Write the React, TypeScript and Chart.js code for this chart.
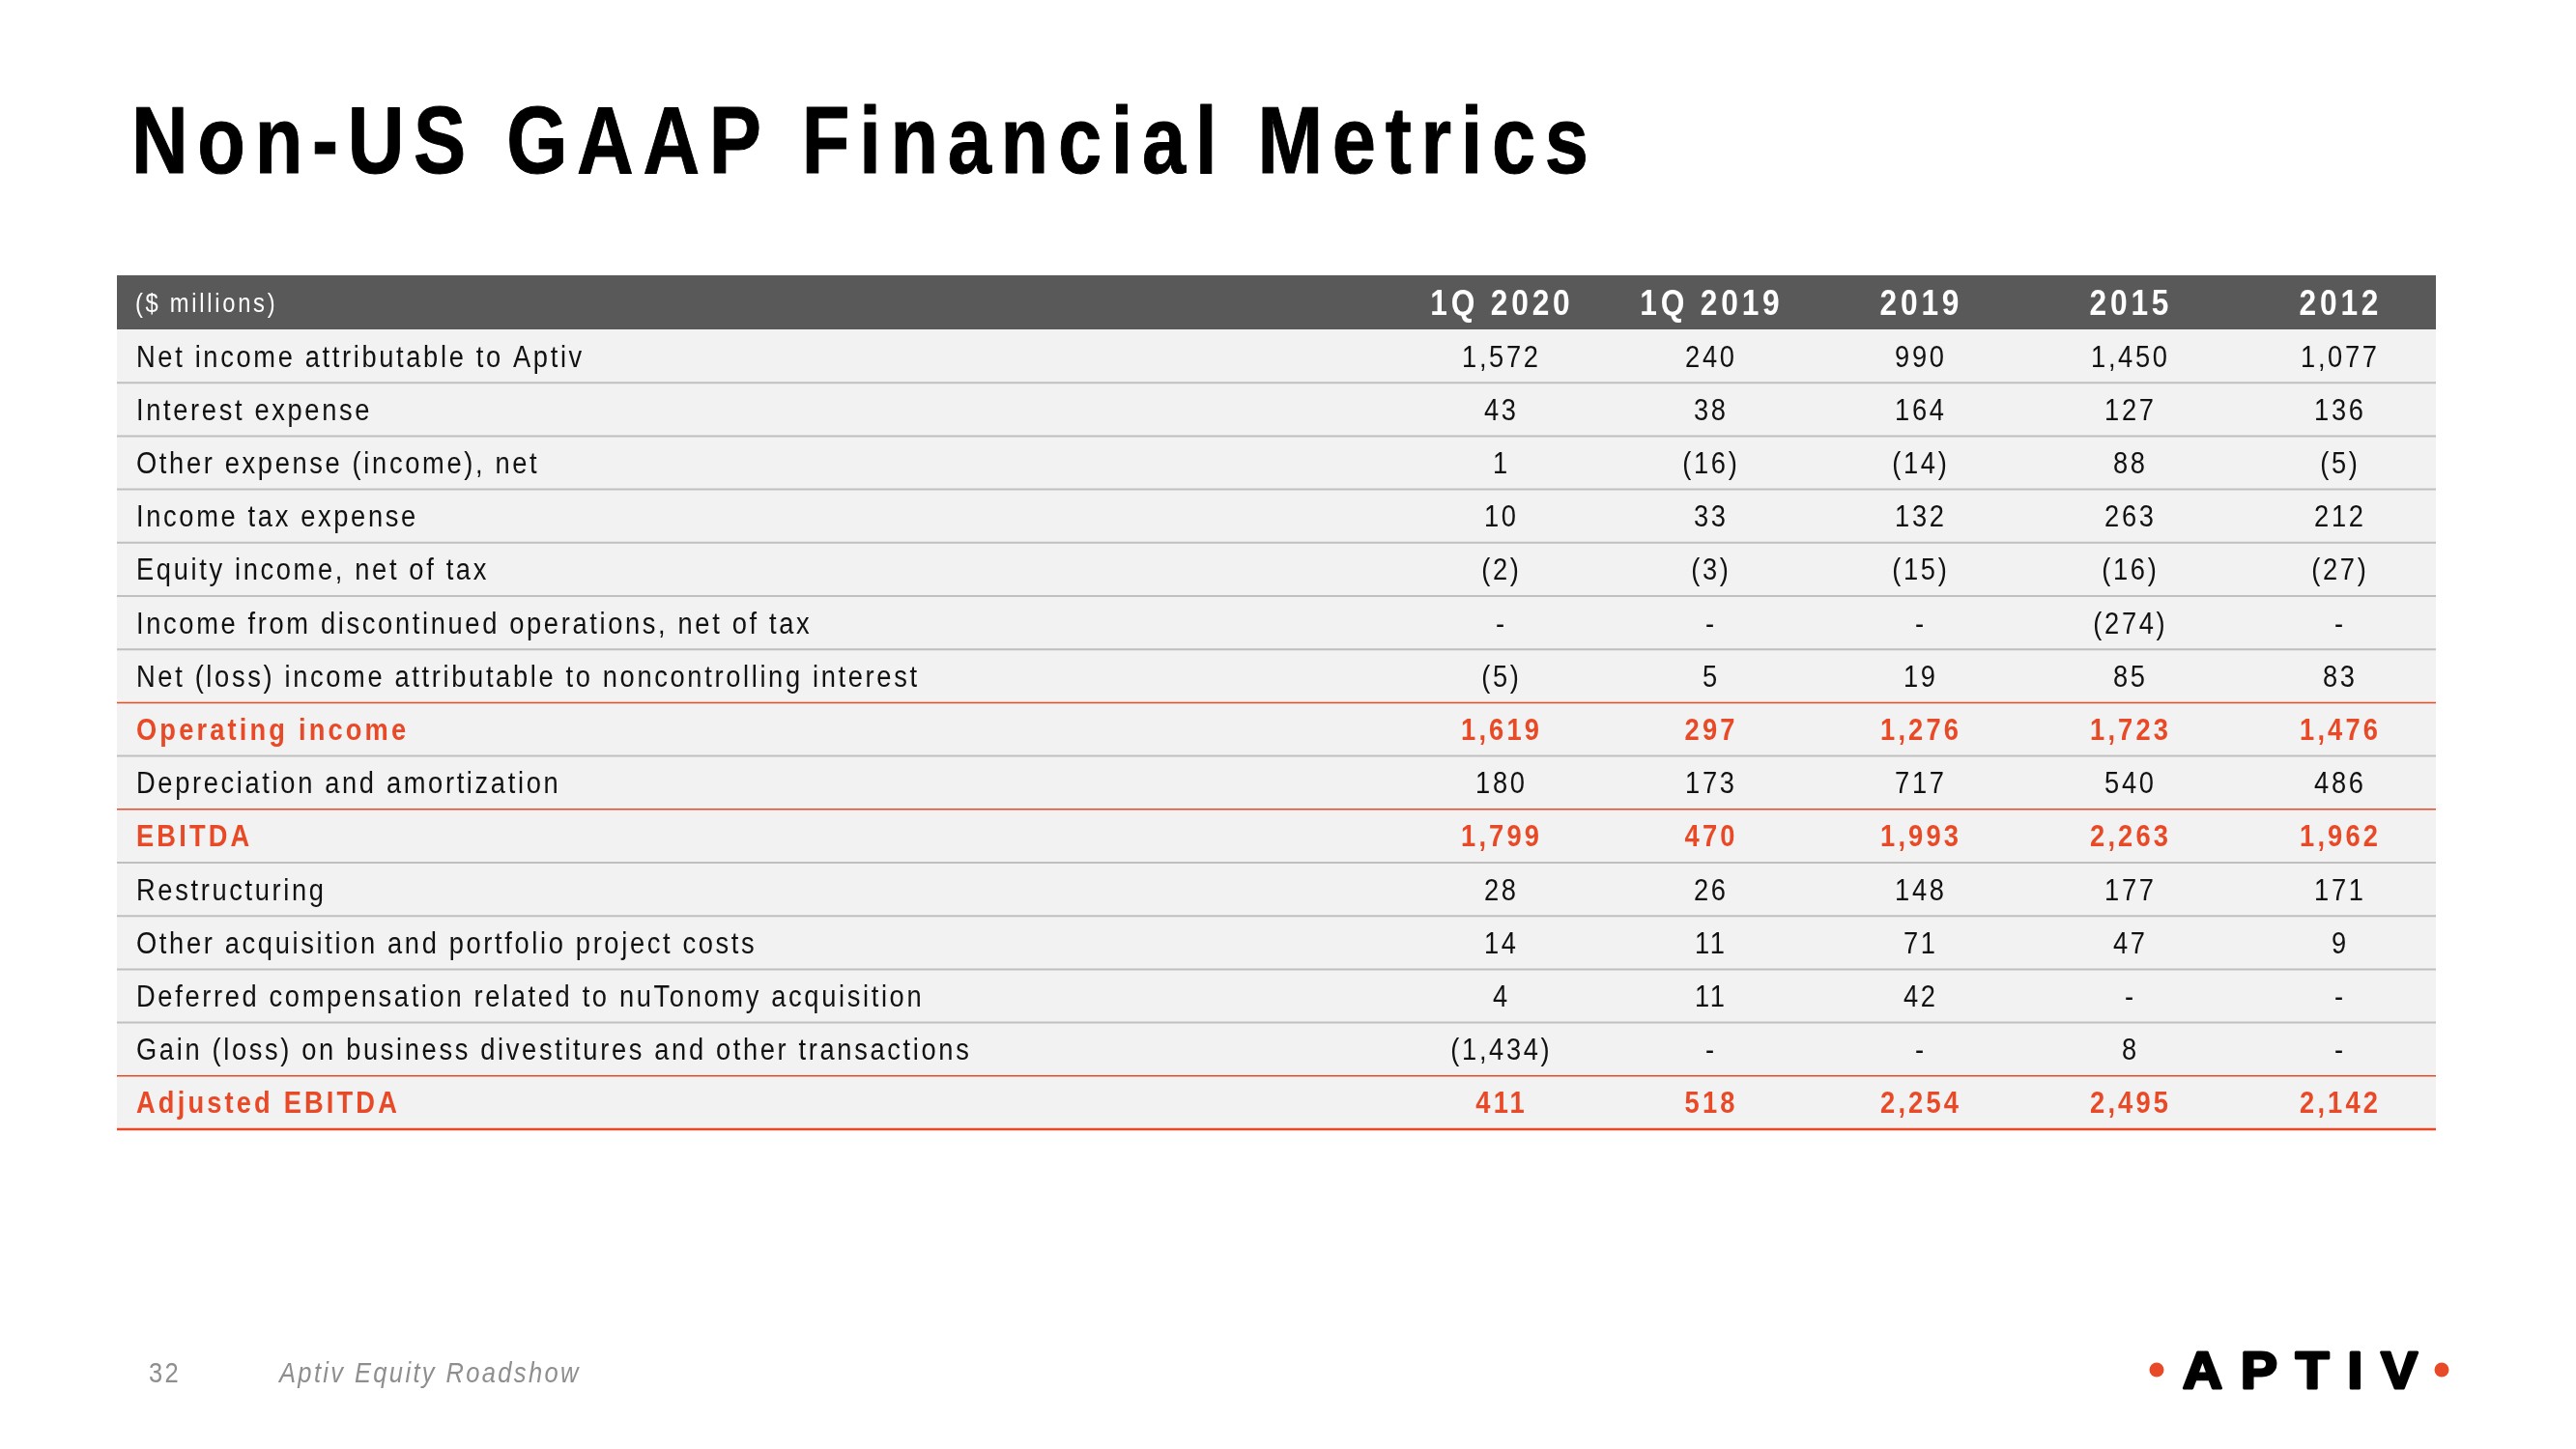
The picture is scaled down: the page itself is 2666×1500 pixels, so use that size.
import React, { useEffect, useRef } from "react";
import { Chart, registerables } from "chart.js";

Chart.register(...registerables);

// ---------- DATA ----------
const TITLE = "Non-US GAAP Financial Metrics";
const UNIT_LABEL = "($ millions)";
const COLUMNS = ["1Q 2020", "1Q 2019", "2019", "2015", "2012"];
const ROWS = [
  "Net income attributable to Aptiv",
  "Interest expense",
  "Other expense (income), net",
  "Income tax expense",
  "Equity income, net of tax",
  "Income from discontinued operations, net of tax",
  "Net (loss) income attributable to noncontrolling interest",
  "Operating income",
  "Depreciation and amortization",
  "EBITDA",
  "Restructuring",
  "Other acquisition and portfolio project costs",
  "Deferred compensation related to nuTonomy acquisition",
  "Gain (loss) on business divestitures and other transactions",
  "Adjusted EBITDA",
];
const TOTAL_ROWS = ["Operating income", "EBITDA", "Adjusted EBITDA"];

const Q1_2020 = [1572, 43, 1, 10, -2, null, -5, 1619, 180, 1799, 28, 14, 4, -1434, 411];
const Q1_2019 = [240, 38, -16, 33, -3, null, 5, 297, 173, 470, 26, 11, 11, null, 518];
const FY_2019 = [990, 164, -14, 132, -15, null, 19, 1276, 717, 1993, 148, 71, 42, null, 2254];
const FY_2015 = [1450, 127, 88, 263, -16, -274, 85, 1723, 540, 2263, 177, 47, null, 8, 2495];
const FY_2012 = [1077, 136, -5, 212, -27, null, 83, 1476, 486, 1962, 171, 9, null, null, 2142];
const SERIES: (number | null)[][] = [Q1_2020, Q1_2019, FY_2019, FY_2015, FY_2012];

const PAGE_NUMBER = "32";
const FOOTER_TEXT = "Aptiv Equity Roadshow";
const LOGO_TEXT = "APTIV";

// ---------- STYLE ----------
const FONT = '"Liberation Sans", Arial, "DejaVu Sans", sans-serif';
const ORANGE = "#E84A27";
const HEADER_BG = "#595959";
const ROW_BG = "#F2F2F2";
const GRAY_LINE = "#BFBFBF";
const NARROW = 0.88;

function fmt(v: number | null): string {
  if (v === null) return "-";
  const s = Math.abs(v).toLocaleString("en-US");
  return v < 0 ? `(${s})` : s;
}

type TextOpts = {
  size: number;
  weight?: string;
  style?: string;
  color: string;
  spacing: number;
  align?: "left" | "center" | "right";
  sx?: number;
  stroke?: number;
};

function drawText(ctx: CanvasRenderingContext2D, s: string, x: number, y: number, o: TextOpts) {
  const sx = o.sx ?? NARROW;
  ctx.save();
  ctx.font = `${o.style || "normal"} ${o.weight || "normal"} ${o.size}px ${FONT}`;
  const ls = o.spacing / sx;
  (ctx as any).letterSpacing = `${ls}px`;
  ctx.fillStyle = o.color;
  ctx.textAlign = "left";
  ctx.textBaseline = "alphabetic";
  const w = (ctx.measureText(s).width - ls) * sx;
  const x0 = o.align === "center" ? x - w / 2 : o.align === "right" ? x - w : x;
  ctx.translate(x0, y);
  ctx.scale(sx, 1);
  ctx.fillText(s, 0, 0);
  if (o.stroke) {
    ctx.strokeStyle = o.color;
    ctx.lineWidth = o.stroke;
    ctx.lineJoin = "round";
    ctx.strokeText(s, 0, 0);
  }
  ctx.restore();
}

const TABLE_LEFT = 121;
const TABLE_RIGHT = 2521;
const HEADER_H = 56;
const LABEL_X = 141;

const tablePlugin = {
  id: "tablePlugin",
  beforeDraw(chart: any) {
    const ctx: CanvasRenderingContext2D = chart.ctx;
    ctx.save();
    ctx.fillStyle = "#FFFFFF";
    ctx.fillRect(0, 0, chart.width, chart.height);
    ctx.restore();
  },
  afterDraw(chart: any) {
    const ctx: CanvasRenderingContext2D = chart.ctx;
    const xs = chart.scales.x;
    const ys = chart.scales.y;
    const step = Math.abs(ys.getPixelForValue(1) - ys.getPixelForValue(0));
    const area = chart.chartArea;

    // Title
    const TITLE_SX = 0.82;
    ctx.save();
    ctx.font = `normal bold 99px ${FONT}`;
    (ctx as any).letterSpacing = "0px";
    const natural = ctx.measureText(TITLE).width * TITLE_SX;
    ctx.restore();
    const titleSpacing = (1508 - natural) / (TITLE.length - 1);
    drawText(ctx, TITLE, 136, 179, {
      size: 99, weight: "bold", color: "#000000", spacing: titleSpacing, sx: TITLE_SX, stroke: 1,
    });

    // Header row
    const headTop = area.top - HEADER_H;
    ctx.fillStyle = HEADER_BG;
    ctx.fillRect(TABLE_LEFT, headTop, TABLE_RIGHT - TABLE_LEFT, HEADER_H);
    const headMid = headTop + HEADER_H / 2;
    drawText(ctx, UNIT_LABEL, LABEL_X - 1, headMid + 0.716 * 27 / 2, {
      size: 27, color: "#FFFFFF", spacing: 2.7,
    });
    COLUMNS.forEach((c, j) => {
      drawText(ctx, c, xs.getPixelForValue(j), headMid + 0.716 * 36 / 2, {
        size: 36, weight: "bold", color: "#FFFFFF", spacing: 3.8, align: "center",
      });
    });

    // Body rows
    ROWS.forEach((label, i) => {
      const cy = ys.getPixelForValue(i);
      const top = cy - step / 2;
      ctx.fillStyle = ROW_BG;
      ctx.fillRect(TABLE_LEFT, top, TABLE_RIGHT - TABLE_LEFT, step);
    });
    ROWS.forEach((label, i) => {
      const cy = ys.getPixelForValue(i);
      const bottom = cy + step / 2;
      const isLast = i === ROWS.length - 1;
      const nextTotal = !isLast && TOTAL_ROWS.includes(ROWS[i + 1]);
      const orange = isLast || nextTotal;
      ctx.save();
      ctx.strokeStyle = orange ? ORANGE : GRAY_LINE;
      ctx.lineWidth = isLast ? 2.5 : orange ? 1.5 : 2;
      ctx.beginPath();
      ctx.moveTo(TABLE_LEFT, bottom);
      ctx.lineTo(TABLE_RIGHT, bottom);
      ctx.stroke();
      ctx.restore();

      const total = TOTAL_ROWS.includes(label);
      const color = total ? ORANGE : "#111111";
      const weight = total ? "bold" : "normal";
      const spacing = total ? 3.15 : 2.65;
      const base = cy + 0.716 * 31 / 2;
      drawText(ctx, label, LABEL_X, base, { size: 31, weight, color, spacing });
      SERIES.forEach((col, j) => {
        drawText(ctx, fmt(col[i]), xs.getPixelForValue(j), base, {
          size: 31, weight, color, spacing, align: "center",
        });
      });
    });

    // Footer
    drawText(ctx, PAGE_NUMBER, 154, 1431, { size: 29, color: "#8E8E8E", spacing: 2.35 });
    drawText(ctx, FOOTER_TEXT, 289, 1431, { size: 29, style: "italic", color: "#8E8E8E", spacing: 2.35 });

    // Logo
    drawText(ctx, LOGO_TEXT, 2259, 1437, {
      size: 54, weight: "bold", color: "#000000", spacing: 19, sx: 1.05, stroke: 3,
    });
    ctx.save();
    ctx.fillStyle = ORANGE;
    [2232, 2527].forEach((cx) => {
      ctx.beginPath();
      ctx.arc(cx, 1418, 7.5, 0, Math.PI * 2);
      ctx.fill();
    });
    ctx.restore();
  },
};

export default function App() {
  const ref = useRef<HTMLCanvasElement | null>(null);
  useEffect(() => {
    if (!ref.current) return;
    const chart = new Chart(ref.current, {
      type: "bar",
      data: { labels: COLUMNS, datasets: [] },
      options: {
        animation: false,
        responsive: false,
        maintainAspectRatio: false,
        devicePixelRatio: 1,
        layout: { padding: { left: 1444, right: 137, top: 341, bottom: 331 } },
        plugins: {
          legend: { display: false },
          tooltip: { enabled: false },
          title: { display: false },
        },
        scales: {
          x: { type: "category", display: false, offset: true },
          y: { type: "category", labels: ROWS, display: false, offset: true },
        },
      },
      plugins: [tablePlugin],
    } as any);
    return () => chart.destroy();
  }, []);
  return (
    <div style={{ position: "absolute", left: 0, top: 0, width: 2666, height: 1500, background: "#fff" }}>
      <canvas ref={ref} width={2666} height={1500} style={{ display: "block" }} />
    </div>
  );
}
